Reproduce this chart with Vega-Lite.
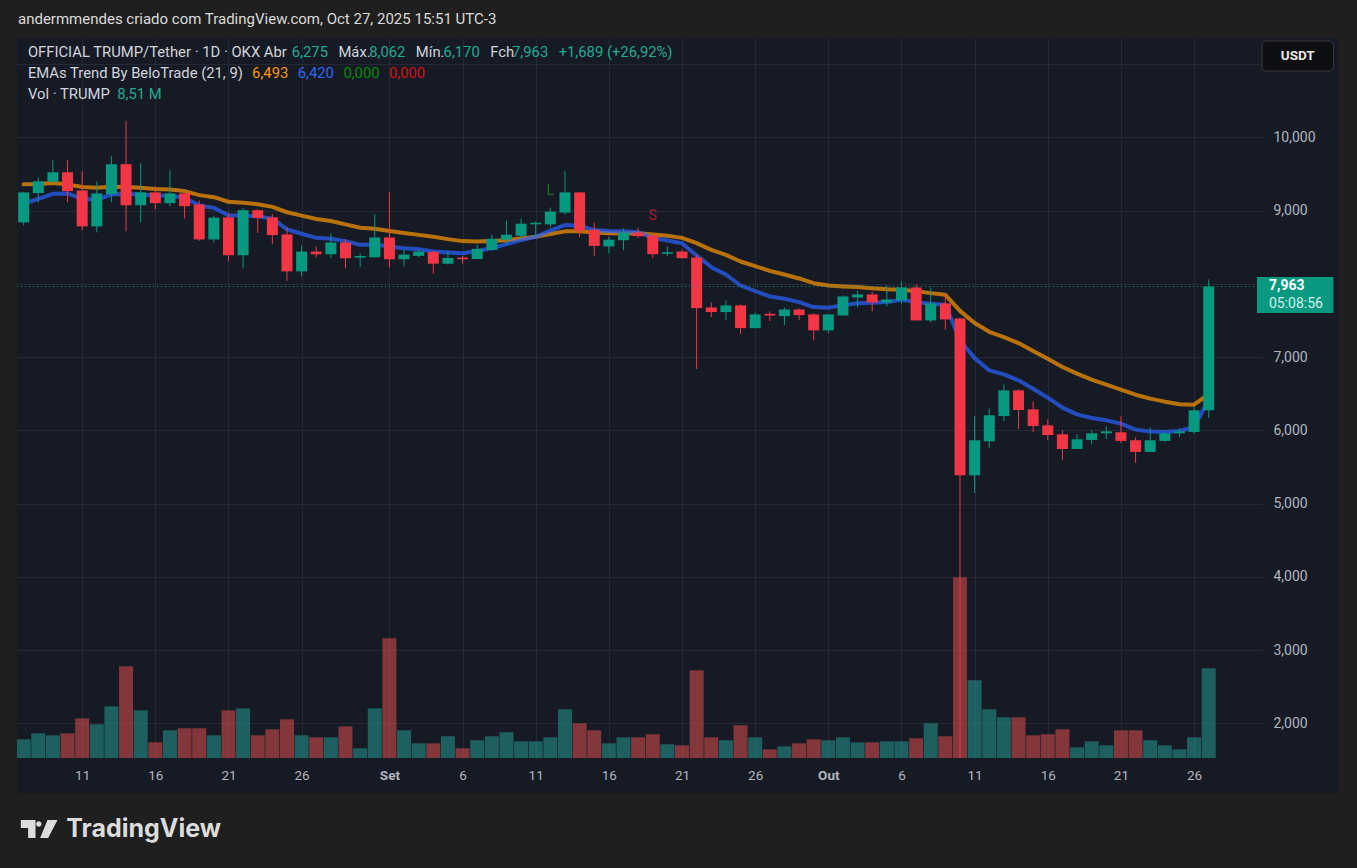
{
"$schema":"https://vega.github.io/schema/vega-lite/v6.json",
"width":1250,"height":720,
"autosize":{"type":"none"},
"padding":{"left":12,"top":38,"right":95,"bottom":110},
"background":"#161a25",
"config":{"view":{"stroke":null},"text":{"font":"Roboto"},"axis":{"labelFont":"Roboto","titleOpacity":0}},
"datasets":{"candles":[
{"date":"2025-08-07","open":8.839,"high":9.255,"low":8.798,"close":9.248,"volume":1.77,"ema21":9.358,"ema9":9.092},
{"date":"2025-08-08","open":9.239,"high":9.450,"low":9.110,"close":9.399,"volume":2.34,"ema21":9.362,"ema9":9.161},
{"date":"2025-08-09","open":9.394,"high":9.688,"low":9.390,"close":9.523,"volume":2.15,"ema21":9.376,"ema9":9.229},
{"date":"2025-08-10","open":9.523,"high":9.688,"low":9.115,"close":9.266,"volume":2.34,"ema21":9.358,"ema9":9.234},
{"date":"2025-08-11","open":9.275,"high":9.537,"low":8.729,"close":8.784,"volume":3.76,"ema21":9.321,"ema9":9.161},
{"date":"2025-08-12","open":8.784,"high":9.399,"low":8.702,"close":9.234,"volume":3.19,"ema21":9.312,"ema9":9.147},
{"date":"2025-08-13","open":9.225,"high":9.743,"low":9.115,"close":9.633,"volume":4.90,"ema21":9.326,"ema9":9.220},
{"date":"2025-08-14","open":9.633,"high":10.225,"low":8.716,"close":9.073,"volume":8.70,"ema21":9.321,"ema9":9.229},
{"date":"2025-08-15","open":9.073,"high":9.647,"low":8.839,"close":9.248,"volume":4.52,"ema21":9.312,"ema9":9.220},
{"date":"2025-08-16","open":9.248,"high":9.330,"low":9.018,"close":9.101,"volume":1.49,"ema21":9.294,"ema9":9.206},
{"date":"2025-08-17","open":9.101,"high":9.550,"low":9.060,"close":9.234,"volume":2.63,"ema21":9.289,"ema9":9.202},
{"date":"2025-08-18","open":9.234,"high":9.250,"low":8.894,"close":9.060,"volume":2.82,"ema21":9.266,"ema9":9.174},
{"date":"2025-08-19","open":9.083,"high":9.138,"low":8.587,"close":8.606,"volume":2.82,"ema21":9.211,"ema9":9.069},
{"date":"2025-08-20","open":8.606,"high":8.931,"low":8.564,"close":8.904,"volume":2.15,"ema21":9.183,"ema9":9.037},
{"date":"2025-08-21","open":8.908,"high":8.963,"low":8.307,"close":8.390,"volume":4.52,"ema21":9.120,"ema9":8.935},
{"date":"2025-08-22","open":8.390,"high":9.032,"low":8.211,"close":9.005,"volume":4.71,"ema21":9.106,"ema9":8.931},
{"date":"2025-08-23","open":9.005,"high":9.018,"low":8.693,"close":8.899,"volume":2.15,"ema21":9.087,"ema9":8.922},
{"date":"2025-08-24","open":8.908,"high":8.950,"low":8.541,"close":8.665,"volume":2.72,"ema21":9.050,"ema9":8.890},
{"date":"2025-08-25","open":8.674,"high":8.771,"low":8.041,"close":8.170,"volume":3.67,"ema21":8.977,"ema9":8.743},
{"date":"2025-08-26","open":8.170,"high":8.523,"low":8.101,"close":8.440,"volume":2.15,"ema21":8.931,"ema9":8.683},
{"date":"2025-08-27","open":8.440,"high":8.509,"low":8.362,"close":8.404,"volume":1.96,"ema21":8.885,"ema9":8.628},
{"date":"2025-08-28","open":8.404,"high":8.688,"low":8.349,"close":8.564,"volume":1.96,"ema21":8.858,"ema9":8.615},
{"date":"2025-08-29","open":8.564,"high":8.606,"low":8.211,"close":8.349,"volume":3.00,"ema21":8.812,"ema9":8.583},
{"date":"2025-08-30","open":8.358,"high":8.417,"low":8.225,"close":8.380,"volume":0.92,"ema21":8.766,"ema9":8.532},
{"date":"2025-08-31","open":8.362,"high":8.950,"low":8.362,"close":8.633,"volume":4.71,"ema21":8.752,"ema9":8.537},
{"date":"2025-09-01","open":8.633,"high":9.252,"low":8.225,"close":8.335,"volume":11.36,"ema21":8.720,"ema9":8.509},
{"date":"2025-09-02","open":8.335,"high":8.468,"low":8.239,"close":8.399,"volume":2.63,"ema21":8.693,"ema9":8.486},
{"date":"2025-09-03","open":8.381,"high":8.468,"low":8.362,"close":8.440,"volume":1.39,"ema21":8.668,"ema9":8.472},
{"date":"2025-09-04","open":8.436,"high":8.450,"low":8.138,"close":8.275,"volume":1.39,"ema21":8.642,"ema9":8.440},
{"date":"2025-09-05","open":8.275,"high":8.450,"low":8.261,"close":8.353,"volume":2.06,"ema21":8.610,"ema9":8.427},
{"date":"2025-09-06","open":8.357,"high":8.381,"low":8.275,"close":8.335,"volume":0.92,"ema21":8.583,"ema9":8.417},
{"date":"2025-09-07","open":8.339,"high":8.532,"low":8.339,"close":8.477,"volume":1.68,"ema21":8.578,"ema9":8.450},
{"date":"2025-09-08","open":8.463,"high":8.670,"low":8.450,"close":8.615,"volume":2.06,"ema21":8.583,"ema9":8.486},
{"date":"2025-09-09","open":8.601,"high":8.862,"low":8.532,"close":8.670,"volume":2.44,"ema21":8.596,"ema9":8.541},
{"date":"2025-09-10","open":8.656,"high":8.890,"low":8.628,"close":8.821,"volume":1.58,"ema21":8.619,"ema9":8.596},
{"date":"2025-09-11","open":8.812,"high":8.849,"low":8.642,"close":8.834,"volume":1.58,"ema21":8.642,"ema9":8.642},
{"date":"2025-09-12","open":8.812,"high":9.041,"low":8.771,"close":8.986,"volume":1.96,"ema21":8.679,"ema9":8.725},
{"date":"2025-09-13","open":8.972,"high":9.537,"low":8.945,"close":9.248,"volume":4.62,"ema21":8.716,"ema9":8.803},
{"date":"2025-09-14","open":9.248,"high":9.250,"low":8.642,"close":8.725,"volume":3.29,"ema21":8.716,"ema9":8.794},
{"date":"2025-09-15","open":8.739,"high":8.835,"low":8.381,"close":8.518,"volume":2.63,"ema21":8.702,"ema9":8.734},
{"date":"2025-09-16","open":8.510,"high":8.642,"low":8.422,"close":8.603,"volume":1.39,"ema21":8.690,"ema9":8.720},
{"date":"2025-09-17","open":8.595,"high":8.755,"low":8.459,"close":8.700,"volume":1.96,"ema21":8.686,"ema9":8.718},
{"date":"2025-09-18","open":8.700,"high":8.768,"low":8.623,"close":8.650,"volume":1.96,"ema21":8.691,"ema9":8.705},
{"date":"2025-09-19","open":8.659,"high":8.700,"low":8.350,"close":8.405,"volume":2.25,"ema21":8.673,"ema9":8.627},
{"date":"2025-09-20","open":8.410,"high":8.509,"low":8.377,"close":8.432,"volume":1.30,"ema21":8.655,"ema9":8.591},
{"date":"2025-09-21","open":8.441,"high":8.468,"low":8.345,"close":8.350,"volume":1.20,"ema21":8.627,"ema9":8.555},
{"date":"2025-09-22","open":8.359,"high":8.400,"low":6.836,"close":7.668,"volume":8.32,"ema21":8.555,"ema9":8.386},
{"date":"2025-09-23","open":7.677,"high":7.745,"low":7.545,"close":7.614,"volume":1.96,"ema21":8.464,"ema9":8.227},
{"date":"2025-09-24","open":7.614,"high":7.773,"low":7.505,"close":7.705,"volume":1.68,"ema21":8.395,"ema9":8.127},
{"date":"2025-09-25","open":7.705,"high":7.718,"low":7.314,"close":7.395,"volume":3.10,"ema21":8.305,"ema9":7.977},
{"date":"2025-09-26","open":7.395,"high":7.609,"low":7.395,"close":7.582,"volume":1.96,"ema21":8.241,"ema9":7.900},
{"date":"2025-09-27","open":7.590,"high":7.623,"low":7.491,"close":7.568,"volume":0.82,"ema21":8.177,"ema9":7.827},
{"date":"2025-09-28","open":7.559,"high":7.677,"low":7.436,"close":7.650,"volume":1.11,"ema21":8.127,"ema9":7.795},
{"date":"2025-09-29","open":7.650,"high":7.664,"low":7.505,"close":7.573,"volume":1.39,"ema21":8.073,"ema9":7.750},
{"date":"2025-09-30","open":7.582,"high":7.600,"low":7.227,"close":7.364,"volume":1.77,"ema21":8.009,"ema9":7.682},
{"date":"2025-10-01","open":7.364,"high":7.590,"low":7.323,"close":7.582,"volume":1.68,"ema21":7.977,"ema9":7.673},
{"date":"2025-10-02","open":7.568,"high":7.841,"low":7.568,"close":7.827,"volume":1.96,"ema21":7.964,"ema9":7.709},
{"date":"2025-10-03","open":7.814,"high":7.909,"low":7.677,"close":7.855,"volume":1.49,"ema21":7.955,"ema9":7.736},
{"date":"2025-10-04","open":7.855,"high":7.895,"low":7.623,"close":7.745,"volume":1.49,"ema21":7.941,"ema9":7.741},
{"date":"2025-10-05","open":7.745,"high":7.977,"low":7.691,"close":7.786,"volume":1.58,"ema21":7.927,"ema9":7.750},
{"date":"2025-10-06","open":7.773,"high":8.032,"low":7.718,"close":7.950,"volume":1.58,"ema21":7.918,"ema9":7.782},
{"date":"2025-10-07","open":7.950,"high":7.990,"low":7.500,"close":7.500,"volume":1.87,"ema21":7.900,"ema9":7.750},
{"date":"2025-10-08","open":7.500,"high":7.950,"low":7.473,"close":7.732,"volume":3.29,"ema21":7.873,"ema9":7.727},
{"date":"2025-10-09","open":7.732,"high":7.855,"low":7.377,"close":7.514,"volume":2.06,"ema21":7.850,"ema9":7.714},
{"date":"2025-10-10","open":7.527,"high":7.540,"low":1.2,"close":5.386,"volume":17.14,"ema21":7.630,"ema9":7.230},
{"date":"2025-10-11","open":5.386,"high":6.191,"low":5.145,"close":5.864,"volume":7.37,"ema21":7.465,"ema9":6.985},
{"date":"2025-10-12","open":5.850,"high":6.300,"low":5.759,"close":6.205,"volume":4.62,"ema21":7.345,"ema9":6.818},
{"date":"2025-10-13","open":6.195,"high":6.627,"low":6.127,"close":6.545,"volume":3.86,"ema21":7.273,"ema9":6.764},
{"date":"2025-10-14","open":6.545,"high":6.559,"low":6.018,"close":6.277,"volume":3.86,"ema21":7.191,"ema9":6.682},
{"date":"2025-10-15","open":6.286,"high":6.395,"low":5.977,"close":6.059,"volume":2.15,"ema21":7.082,"ema9":6.568},
{"date":"2025-10-16","open":6.068,"high":6.150,"low":5.868,"close":5.936,"volume":2.25,"ema21":6.977,"ema9":6.445},
{"date":"2025-10-17","open":5.945,"high":6.000,"low":5.595,"close":5.745,"volume":2.72,"ema21":6.864,"ema9":6.309},
{"date":"2025-10-18","open":5.745,"high":5.945,"low":5.745,"close":5.877,"volume":1.01,"ema21":6.773,"ema9":6.218},
{"date":"2025-10-19","open":5.868,"high":6.000,"low":5.814,"close":5.959,"volume":1.58,"ema21":6.691,"ema9":6.168},
{"date":"2025-10-20","open":5.960,"high":6.055,"low":5.882,"close":5.986,"volume":1.20,"ema21":6.623,"ema9":6.136},
{"date":"2025-10-21","open":5.973,"high":6.191,"low":5.827,"close":5.855,"volume":2.63,"ema21":6.555,"ema9":6.091},
{"date":"2025-10-22","open":5.864,"high":5.905,"low":5.555,"close":5.705,"volume":2.63,"ema21":6.486,"ema9":6.009},
{"date":"2025-10-23","open":5.705,"high":6.041,"low":5.700,"close":5.864,"volume":1.68,"ema21":6.432,"ema9":5.982},
{"date":"2025-10-24","open":5.855,"high":5.973,"low":5.841,"close":5.959,"volume":1.20,"ema21":6.391,"ema9":5.977},
{"date":"2025-10-25","open":5.960,"high":6.027,"low":5.909,"close":5.986,"volume":0.82,"ema21":6.355,"ema9":5.991},
{"date":"2025-10-26","open":5.977,"high":6.327,"low":5.950,"close":6.273,"volume":1.96,"ema21":6.350,"ema9":6.045},
{"date":"2025-10-27","open":6.275,"high":8.062,"low":6.170,"close":7.963,"volume":8.51,"ema21":6.493,"ema9":6.420}
],
"signals":[{"date":"2025-09-12","price":9.266,"label":"L"},{"date":"2025-09-19","price":8.923,"label":"S"}],
"one":[{"k":1}]
},
"resolve":{"scale":{"y":"independent"}},
"layer":[
 {"data":{"name":"candles"},"mark":{"type":"bar","width":14},
  "encoding":{
   "x":{"field":"date","type":"temporal"},
   "y":{"field":"volume","type":"quantitative","scale":{"domain":[0,68.3],"nice":false,"zero":true},"axis":null},
   "color":{"condition":{"test":"datum.close >= datum.open","value":"#26a69a"},"value":"#ef5350"},
   "opacity":{"value":0.5}}},
 {"layer":[
  {"data":{"name":"one"},"mark":{"type":"rect","color":"#1f1f1f"},
   "encoding":{"x":{"datum":1754179200000,"type":"temporal"},"x2":{"datum":1762646400000},
    "y":{"datum":13.5,"type":"quantitative"},"y2":{"datum":11.364}}},
  {"data":{"name":"one"},"mark":{"type":"rect","color":"#1f1f1f"},
   "encoding":{"x":{"datum":1754179200000,"type":"temporal"},"x2":{"datum":1762646400000},
    "y":{"datum":1.0485,"type":"quantitative"},"y2":{"datum":-0.8}}},
  {"data":{"name":"one"},"mark":{"type":"rect","color":"#1f1f1f"},
   "encoding":{"x":{"datum":1754179200000,"type":"temporal"},"x2":{"datum":1754485560000},
    "y":{"datum":13.5,"type":"quantitative"},"y2":{"datum":-0.8}}},
  {"data":{"name":"one"},"mark":{"type":"rect","color":"#1f1f1f"},
   "encoding":{"x":{"datum":1762289040000,"type":"temporal"},"x2":{"datum":1762646400000},
    "y":{"datum":13.5,"type":"quantitative"},"y2":{"datum":-0.8}}},
  {"data":{"name":"candles"},
   "encoding":{
    "x":{"field":"date","type":"temporal",
     "scale":{"domain":[1754485560000,1761808320000],"nice":false},
     "axis":{"title":null,"values":[
      {"year":2025,"month":8,"date":11,"utc":true},{"year":2025,"month":8,"date":16,"utc":true},{"year":2025,"month":8,"date":21,"utc":true},{"year":2025,"month":8,"date":26,"utc":true},
      {"year":2025,"month":9,"date":1,"utc":true},{"year":2025,"month":9,"date":6,"utc":true},{"year":2025,"month":9,"date":11,"utc":true},{"year":2025,"month":9,"date":16,"utc":true},{"year":2025,"month":9,"date":21,"utc":true},{"year":2025,"month":9,"date":26,"utc":true},
      {"year":2025,"month":10,"date":1,"utc":true},{"year":2025,"month":10,"date":6,"utc":true},{"year":2025,"month":10,"date":11,"utc":true},{"year":2025,"month":10,"date":16,"utc":true},{"year":2025,"month":10,"date":21,"utc":true},{"year":2025,"month":10,"date":26,"utc":true}],
      "labelExpr":"utcdate(datum.value) == 1 ? (utcmonth(datum.value) == 8 ? 'Set' : 'Out') : utcFormat(datum.value, '%-d')",
      "labelFontWeight":{"condition":{"test":"utcdate(datum.value) == 1","value":"bold"},"value":"normal"},
      "grid":true,"gridColor":"#252936","domain":false,"ticks":false,"tickSize":0,"labelPadding":17,"labelBaseline":"middle",
      "labelFontSize":13.5,"labelColor":"#b2b5be","labelFlush":false,"labelOverlap":false}}},
   "layer":[
    {"mark":{"type":"line","color":"#ff9800","opacity":0.7,"strokeWidth":4,"strokeCap":"round","strokeJoin":"round"},
     "encoding":{"y":{"field":"ema21","type":"quantitative"}}},
    {"mark":{"type":"line","color":"#2962ff","opacity":0.7,"strokeWidth":4,"strokeCap":"round","strokeJoin":"round"},
     "encoding":{"y":{"field":"ema9","type":"quantitative"}}},
    {"mark":{"type":"rule","strokeWidth":1,"clip":true},
     "encoding":{
      "y":{"field":"low","type":"quantitative","scale":{"domain":[1.526,11.356],"nice":false,"zero":false},
       "axis":{"title":null,"orient":"right","values":[2,3,4,5,6,7,8,9,10,11],
        "labelExpr":"(datum.value > 10.5 || datum.value == 8) ? '' : replace(format(datum.value, '.3f'), '.', ',')",
        "grid":true,"gridColor":"#252936","domain":false,"ticks":false,"tickSize":0,"labelPadding":11,"labelAlign":"left","labelBaseline":"middle",
        "labelFontSize":14,"labelColor":"#b2b5be"}},
      "y2":{"field":"high"},
      "color":{"condition":{"test":"datum.close >= datum.open","value":"#089981"},"value":"#f23645"}}},
    {"mark":{"type":"bar","width":11},
     "encoding":{
      "y":{"field":"open","type":"quantitative"},
      "y2":{"field":"close"},
      "color":{"condition":{"test":"datum.close >= datum.open","value":"#089981"},"value":"#f23645"}}},
    {"data":{"name":"signals"},"mark":{"type":"text","fontSize":14,"baseline":"middle","align":"center"},
     "encoding":{
      "y":{"field":"price","type":"quantitative"},
      "text":{"field":"label"},
      "color":{"condition":{"test":"datum.label == 'L'","value":"#1b6e22"},"value":"#a81d26"}}}
   ]},
  {"data":{"name":"one"},"mark":{"type":"rule","color":"#089981","strokeWidth":1,"strokeDash":[1,3]},
   "encoding":{"x":{"datum":1754485560000,"type":"temporal"},"x2":{"datum":1761808320000},
    "y":{"datum":7.963,"type":"quantitative"}}},
  {"data":{"name":"one"},"mark":{"type":"rect","color":"#089981"},
   "encoding":{"x":{"datum":1761808320000,"type":"temporal"},"x2":{"datum":1762259700000},
    "y":{"datum":8.093,"type":"quantitative"},"y2":{"datum":7.601}}},
  {"data":{"name":"one"},"mark":{"type":"text","text":"7,963","align":"left","baseline":"middle","fontSize":14,"fontWeight":"bold","color":"#ffffff"},
   "encoding":{"x":{"datum":1761878880000,"type":"temporal"},"y":{"datum":7.97,"type":"quantitative"}}},
  {"data":{"name":"one"},"mark":{"type":"text","text":"05:08:56","align":"left","baseline":"middle","fontSize":14,"color":"#d5efea"},
   "encoding":{"x":{"datum":1761878880000,"type":"temporal"},"y":{"datum":7.724,"type":"quantitative"}}},
  {"data":{"name":"one"},"mark":{"type":"rect","color":"#0e0f12","stroke":"#3a3d46","strokeWidth":1,"cornerRadius":4},
   "encoding":{"x":{"datum":1761837840000,"type":"temporal"},"x2":{"datum":1762259700000},
    "y":{"datum":11.315,"type":"quantitative"},"y2":{"datum":10.905}}},
  {"data":{"name":"one"},"mark":{"type":"text","text":"USDT","align":"center","baseline":"middle","fontSize":13.5,"fontWeight":"bold","color":"#e8e8e8"},
   "encoding":{"x":{"datum":1762048800000,"type":"temporal"},"y":{"datum":11.11,"type":"quantitative"}}},
  {"data":{"name":"one"},"mark":{"type":"text","text":"andermmendes criado com TradingView.com, Oct 27, 2025 15:51 UTC-3","align":"left","baseline":"middle","fontSize":15,"color":"#dbdbdb"},
   "encoding":{"x":{"datum":1754491380000,"type":"temporal"},"y":{"datum":11.615,"type":"quantitative"}}},
  {"data":{"name":"one"},"mark":{"type":"text","text":"OFFICIAL TRUMP/Tether · 1D · OKX  Abr","align":"left","baseline":"middle","fontSize":14.8,"color":"#d1d4dc"},
   "encoding":{"x":{"datum":1754550000000,"type":"temporal"},"y":{"datum":11.151,"type":"quantitative"}}},
  {"data":{"name":"one"},"mark":{"type":"text","text":"6,275","align":"left","baseline":"middle","fontSize":14.8,"color":"#22ab94"},
   "encoding":{"x":{"datum":1756108320000,"type":"temporal"},"y":{"datum":11.151,"type":"quantitative"}}},
  {"data":{"name":"one"},"mark":{"type":"text","text":"Máx.","align":"left","baseline":"middle","fontSize":14.8,"color":"#d1d4dc"},
   "encoding":{"x":{"datum":1756383720000,"type":"temporal"},"y":{"datum":11.151,"type":"quantitative"}}},
  {"data":{"name":"one"},"mark":{"type":"text","text":"8,062","align":"left","baseline":"middle","fontSize":14.8,"color":"#22ab94"},
   "encoding":{"x":{"datum":1756565280000,"type":"temporal"},"y":{"datum":11.151,"type":"quantitative"}}},
  {"data":{"name":"one"},"mark":{"type":"text","text":"Mín.","align":"left","baseline":"middle","fontSize":14.8,"color":"#d1d4dc"},
   "encoding":{"x":{"datum":1756840680000,"type":"temporal"},"y":{"datum":11.151,"type":"quantitative"}}},
  {"data":{"name":"one"},"mark":{"type":"text","text":"6,170","align":"left","baseline":"middle","fontSize":14.8,"color":"#22ab94"},
   "encoding":{"x":{"datum":1757004660000,"type":"temporal"},"y":{"datum":11.151,"type":"quantitative"}}},
  {"data":{"name":"one"},"mark":{"type":"text","text":"Fch","align":"left","baseline":"middle","fontSize":14.8,"color":"#d1d4dc"},
   "encoding":{"x":{"datum":1757280000000,"type":"temporal"},"y":{"datum":11.151,"type":"quantitative"}}},
  {"data":{"name":"one"},"mark":{"type":"text","text":"7,963","align":"left","baseline":"middle","fontSize":14.8,"color":"#22ab94"},
   "encoding":{"x":{"datum":1757408940000,"type":"temporal"},"y":{"datum":11.151,"type":"quantitative"}}},
  {"data":{"name":"one"},"mark":{"type":"text","text":"+1,689 (+26,92%)","align":"left","baseline":"middle","fontSize":14.8,"color":"#22ab94"},
   "encoding":{"x":{"datum":1757684280000,"type":"temporal"},"y":{"datum":11.151,"type":"quantitative"}}},
  {"data":{"name":"one"},"mark":{"type":"text","text":"EMAs Trend By BeloTrade (21, 9)","align":"left","baseline":"middle","fontSize":14.8,"color":"#d1d4dc"},
   "encoding":{"x":{"datum":1754550000000,"type":"temporal"},"y":{"datum":10.864,"type":"quantitative"}}},
  {"data":{"name":"one"},"mark":{"type":"text","text":"6,493","align":"left","baseline":"middle","fontSize":14.8,"color":"#ff9800"},
   "encoding":{"x":{"datum":1755874020000,"type":"temporal"},"y":{"datum":10.864,"type":"quantitative"}}},
  {"data":{"name":"one"},"mark":{"type":"text","text":"6,420","align":"left","baseline":"middle","fontSize":14.8,"color":"#2f66f5"},
   "encoding":{"x":{"datum":1756143480000,"type":"temporal"},"y":{"datum":10.864,"type":"quantitative"}}},
  {"data":{"name":"one"},"mark":{"type":"text","text":"0,000","align":"left","baseline":"middle","fontSize":14.8,"color":"#0b8a0b"},
   "encoding":{"x":{"datum":1756413000000,"type":"temporal"},"y":{"datum":10.864,"type":"quantitative"}}},
  {"data":{"name":"one"},"mark":{"type":"text","text":"0,000","align":"left","baseline":"middle","fontSize":14.8,"color":"#dd1111"},
   "encoding":{"x":{"datum":1756682460000,"type":"temporal"},"y":{"datum":10.864,"type":"quantitative"}}},
  {"data":{"name":"one"},"mark":{"type":"text","text":"Vol · TRUMP","align":"left","baseline":"middle","fontSize":14.8,"color":"#d1d4dc"},
   "encoding":{"x":{"datum":1754550000000,"type":"temporal"},"y":{"datum":10.577,"type":"quantitative"}}},
  {"data":{"name":"one"},"mark":{"type":"text","text":"8,51 M","align":"left","baseline":"middle","fontSize":14.8,"color":"#22ab94"},
   "encoding":{"x":{"datum":1755077220000,"type":"temporal"},"y":{"datum":10.577,"type":"quantitative"}}},
  {"data":{"name":"one"},"mark":{"type":"point","filled":true,"opacity":1,"size":1369,"color":"#dcdcdc","strokeWidth":0,
    "shape":"M-1,-0.486L-0.205,-0.486L-0.205,0.486L-0.605,0.486L-0.605,-0.054L-1,-0.054Z M-0.173,-0.27A0.146,0.146,0,1,0,0.119,-0.27A0.146,0.146,0,1,0,-0.173,-0.27Z M0.443,-0.486L0.984,-0.486L0.476,0.486L0.043,0.486Z"},
   "encoding":{"x":{"datum":1754617380000,"type":"temporal"},"y":{"datum":0.557,"type":"quantitative"}}},
  {"data":{"name":"one"},"mark":{"type":"text","text":"TradingView","align":"left","baseline":"middle","font":"Inter","fontSize":25,"fontWeight":"bold","color":"#dcdcdc"},
   "encoding":{"x":{"datum":1754776740000,"type":"temporal"},"y":{"datum":0.557,"type":"quantitative"}}}
 ]}
]
}
